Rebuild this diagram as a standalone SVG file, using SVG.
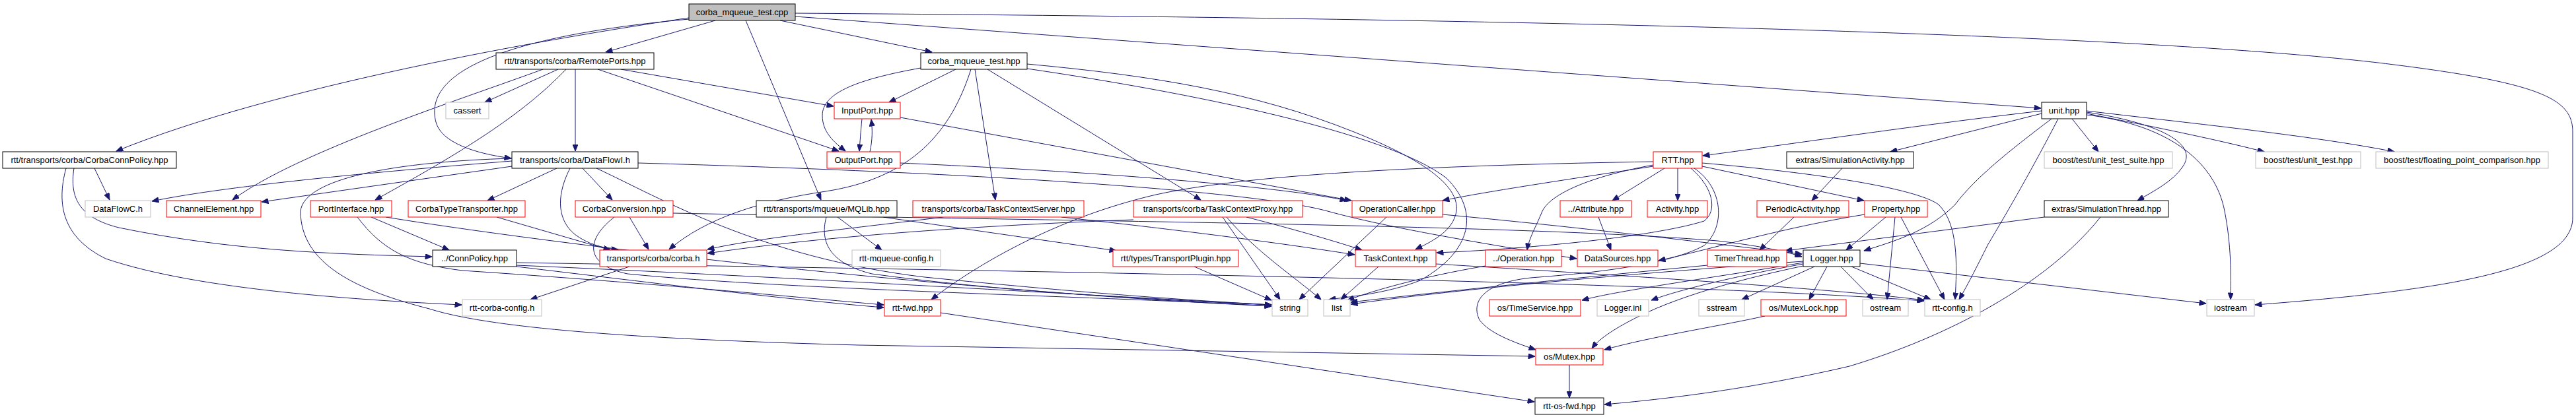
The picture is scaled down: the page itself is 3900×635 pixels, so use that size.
<svg xmlns="http://www.w3.org/2000/svg" width="3900" height="635" viewBox="0 0 3900 635">
<style>
.n rect{fill:#fff;stroke-width:1}
.b rect{stroke:#000}
.g rect{stroke:#bfbfbf}
.r rect{stroke:#ff0000}
.root rect{fill:#bfbfbf;stroke:#000}
text{font-family:"Liberation Sans",Arial,sans-serif;font-size:13px;fill:#000;text-anchor:middle}
#edges path{fill:none;stroke:#191970;stroke-width:1;marker-end:url(#a)}
</style>
<defs>
<marker id="a" viewBox="0 0 10 8" refX="10" refY="4" markerWidth="11" markerHeight="8" markerUnits="userSpaceOnUse" orient="auto"><path d="M0,0 L10,4 L0,8 z" fill="#191970" stroke="#191970"/></marker>
</defs>
<rect width="3900" height="635" fill="#fff"/>
<g id="edges">
<path d="M1043,27 C820,60 420,130 176,229"/>
<path d="M1043,29 C760,55 640,110 660,185 C668,215 715,232 774,240"/>
<path d="M1083,31 L917,79"/>
<path d="M1129,31 L1243,303"/>
<path d="M1181,31 L1411,79"/>
<path d="M1204,25 L3090,164"/>
<path d="M1204,20 C2600,30 3300,60 3600,95 C3850,125 3895,150 3895,200 L3895,330 C3895,410 3700,440 3414,462"/>
<path d="M845,105 L734,155"/>
<path d="M871,105 L871,229"/>
<path d="M822,105 C700,150 450,230 352,303"/>
<path d="M857,105 C790,175 700,230 568,303"/>
<path d="M940,105 L1262,161"/>
<path d="M905,105 L1270,229"/>
<path d="M1447,105 L1346,155"/>
<path d="M1394,103 C1300,120 1245,140 1245,175 C1245,200 1262,215 1280,229"/>
<path d="M1470,105 C1440,200 1380,270 1250,290 C1150,305 1070,330 1013,378"/>
<path d="M1476,105 L1507,303"/>
<path d="M1495,105 L1818,303"/>
<path d="M1555,97 C1750,115 1900,140 2050,200 C2150,240 2210,280 2205,320 C2200,350 2170,365 2143,378"/>
<path d="M1555,104 C1800,140 2100,200 2190,270 C2240,320 2230,380 2150,425 C2100,445 2040,450 2012,454"/>
<path d="M1305,180 C1303,200 1302,215 1301,229"/>
<path d="M1317,230 C1321,212 1321,196 1319,181"/>
<path d="M1363,178 L2046,304"/>
<path d="M1363,247 C1700,262 1950,285 2039,304"/>
<path d="M775,244 C600,258 350,280 230,305"/>
<path d="M775,252 L396,306"/>
<path d="M775,240 C600,245 460,270 455,320 C455,400 540,440 650,468 C750,500 1000,515 1300,523 L2324,540"/>
<path d="M843,255 L738,304"/>
<path d="M863,255 C845,290 840,330 870,355 C890,370 910,375 936,379"/>
<path d="M882,255 L927,303"/>
<path d="M903,255 C1000,300 1150,390 1400,420 C1650,445 1800,455 1925,462"/>
<path d="M966,247 C1500,262 1900,290 2010,320 C2100,345 2250,370 2387,392"/>
<path d="M752,329 L924,379"/>
<path d="M953,329 L982,378"/>
<path d="M930,329 C890,360 880,400 950,415 C1200,440 1700,450 1925,464"/>
<path d="M1019,323 C1600,335 2300,340 2600,365 C2660,372 2700,380 2728,389"/>
<path d="M562,329 L680,379"/>
<path d="M541,329 C580,380 620,400 700,410 C1000,430 1200,450 1338,462"/>
<path d="M584,329 C900,380 1500,445 1925,464"/>
<path d="M143,255 L166,303"/>
<path d="M112,255 C105,300 120,330 180,345 C350,380 500,385 654,389"/>
<path d="M100,255 C85,310 95,360 160,392 C300,440 550,455 699,462"/>
<path d="M782,398 C1500,410 2500,425 2913,456"/>
<path d="M782,402 C1200,420 1600,445 1925,462"/>
<path d="M782,404 C1000,430 1200,455 1338,466"/>
<path d="M953,404 L803,454"/>
<path d="M1268,329 L1335,379"/>
<path d="M1337,329 L1690,380"/>
<path d="M1251,329 C1240,370 1260,400 1320,415 C1500,440 1750,455 1925,462"/>
<path d="M1428,329 C1300,345 1150,360 1071,378"/>
<path d="M1607,329 C1800,350 1950,370 2051,386"/>
<path d="M1716,333 C1400,345 1200,365 1071,384"/>
<path d="M1887,329 C1950,345 2020,365 2062,379"/>
<path d="M1851,329 L1938,454"/>
<path d="M1857,329 C1900,380 1960,420 2000,454"/>
<path d="M1808,404 L1925,455"/>
<path d="M2099,329 L1967,454"/>
<path d="M2184,325 C2400,345 2600,370 2728,385"/>
<path d="M2087,404 L2030,454"/>
<path d="M2174,400 C2500,420 2800,440 2913,455"/>
<path d="M2249,403 C2150,420 2080,440 2040,455"/>
<path d="M2420,329 L2439,379"/>
<path d="M2503,252 C2400,268 2250,290 2184,304"/>
<path d="M2503,245 C2200,250 1900,262 1750,295 C1600,330 1480,400 1410,454"/>
<path d="M2520,255 L2441,304"/>
<path d="M2540,255 L2540,304"/>
<path d="M2503,250 C2420,265 2350,290 2335,320 C2325,345 2315,360 2312,379"/>
<path d="M2560,255 C2595,285 2600,320 2580,335 C2500,360 2300,378 2175,383"/>
<path d="M2565,255 C2610,285 2612,345 2580,372 C2530,400 2420,413 2330,420 C2250,425 2225,455 2240,485 C2255,505 2290,518 2325,530"/>
<path d="M2577,252 L2822,304"/>
<path d="M2577,247 C2750,262 2900,285 2935,310 C2965,340 2963,400 2960,454"/>
<path d="M3091,168 C2900,190 2700,220 2578,236"/>
<path d="M3091,172 L2862,230"/>
<path d="M3137,180 L3177,230"/>
<path d="M3159,172 C3250,190 3350,210 3428,230"/>
<path d="M3159,168 C3300,185 3500,205 3625,230"/>
<path d="M3159,170 C3260,185 3330,215 3305,252 C3290,275 3260,290 3236,304"/>
<path d="M3159,174 C3290,190 3355,250 3368,320 C3378,370 3378,420 3377,454"/>
<path d="M3106,180 C3040,230 2990,270 2960,310 C2920,350 2870,365 2822,380"/>
<path d="M3116,180 C3080,250 3040,320 3010,370 C2995,400 2980,430 2966,454"/>
<path d="M2789,255 L2743,304"/>
<path d="M2716,329 L2664,379"/>
<path d="M2855,329 L2795,379"/>
<path d="M2869,329 L2857,454"/>
<path d="M2878,329 L2944,454"/>
<path d="M2823,325 C2700,345 2600,375 2511,395"/>
<path d="M2585,402 C2400,420 2200,440 2045,458"/>
<path d="M2730,398 C2600,420 2450,440 2395,455"/>
<path d="M2730,400 C2620,420 2540,440 2500,455"/>
<path d="M2730,396 C2400,420 2200,440 2045,461"/>
<path d="M2730,403 C2650,420 2550,445 2480,480 C2440,500 2420,515 2410,528"/>
<path d="M2747,404 L2637,454"/>
<path d="M2766,404 L2739,454"/>
<path d="M2787,404 L2836,454"/>
<path d="M2803,404 L2923,454"/>
<path d="M2816,399 L3340,460"/>
<path d="M2672,479 C2600,495 2500,510 2429,530"/>
<path d="M2376,553 L2376,603"/>
<path d="M3180,329 C3100,430 2950,510 2800,555 C2650,590 2520,605 2429,613"/>
<path d="M3095,329 L2703,380"/>
<path d="M1424,474 L2323,609"/>
</g>
<g id="n_cpp" class="n root"><rect x="1043" y="6" width="161" height="25"/><text x="1123.5" y="23">corba_mqueue_test.cpp</text></g>
<g id="n_remoteports" class="n b"><rect x="751" y="80" width="239" height="25"/><text x="870.5" y="97">rtt/transports/corba/RemotePorts.hpp</text></g>
<g id="n_cpphpp" class="n b"><rect x="1394" y="80" width="161" height="25"/><text x="1474.5" y="97">corba_mqueue_test.hpp</text></g>
<g id="n_cassert" class="n g"><rect x="675" y="155" width="65" height="25"/><text x="707.5" y="172">cassert</text></g>
<g id="n_inputport" class="n r"><rect x="1263" y="155" width="100" height="25"/><text x="1313" y="172">InputPort.hpp</text></g>
<g id="n_unit" class="n b"><rect x="3091" y="155" width="68" height="25"/><text x="3125" y="172">unit.hpp</text></g>
<g id="n_corbaconnpolicy" class="n b"><rect x="4" y="230" width="263" height="25"/><text x="135.5" y="247">rtt/transports/corba/CorbaConnPolicy.hpp</text></g>
<g id="n_dataflowi" class="n b"><rect x="775" y="230" width="191" height="25"/><text x="870.5" y="247">transports/corba/DataFlowI.h</text></g>
<g id="n_outputport" class="n r"><rect x="1252" y="230" width="111" height="25"/><text x="1307.5" y="247">OutputPort.hpp</text></g>
<g id="n_rtt" class="n r"><rect x="2503" y="230" width="74" height="25"/><text x="2540" y="247">RTT.hpp</text></g>
<g id="n_simact" class="n b"><rect x="2705" y="230" width="192" height="25"/><text x="2801" y="247">extras/SimulationActivity.hpp</text></g>
<g id="n_uts" class="n g"><rect x="3095" y="230" width="194" height="25"/><text x="3192" y="247">boost/test/unit_test_suite.hpp</text></g>
<g id="n_ut" class="n g"><rect x="3415" y="230" width="159" height="25"/><text x="3494.5" y="247">boost/test/unit_test.hpp</text></g>
<g id="n_fpc" class="n g"><rect x="3597" y="230" width="261" height="25"/><text x="3727.5" y="247">boost/test/floating_point_comparison.hpp</text></g>
<g id="n_dataflowc" class="n g"><rect x="129" y="304" width="99" height="25"/><text x="178.5" y="321">DataFlowC.h</text></g>
<g id="n_channelelement" class="n r"><rect x="252" y="304" width="143" height="25"/><text x="323.5" y="321">ChannelElement.hpp</text></g>
<g id="n_portinterface" class="n r"><rect x="470" y="304" width="123" height="25"/><text x="531.5" y="321">PortInterface.hpp</text></g>
<g id="n_ctt" class="n r"><rect x="618" y="304" width="177" height="25"/><text x="706.5" y="321">CorbaTypeTransporter.hpp</text></g>
<g id="n_corbaconversion" class="n r"><rect x="871" y="304" width="148" height="25"/><text x="945" y="321">CorbaConversion.hpp</text></g>
<g id="n_mqlib" class="n b"><rect x="1145" y="304" width="213" height="25"/><text x="1251.5" y="321">rtt/transports/mqueue/MQLib.hpp</text></g>
<g id="n_tcserver" class="n r"><rect x="1382" y="304" width="259" height="25"/><text x="1511.5" y="321">transports/corba/TaskContextServer.hpp</text></g>
<g id="n_tcproxy" class="n r"><rect x="1716" y="304" width="256" height="25"/><text x="1844" y="321">transports/corba/TaskContextProxy.hpp</text></g>
<g id="n_operationcaller" class="n r"><rect x="2047" y="304" width="137" height="25"/><text x="2115.5" y="321">OperationCaller.hpp</text></g>
<g id="n_attribute" class="n r"><rect x="2362" y="304" width="108" height="25"/><text x="2416" y="321">../Attribute.hpp</text></g>
<g id="n_activity" class="n r"><rect x="2494" y="304" width="91" height="25"/><text x="2539.5" y="321">Activity.hpp</text></g>
<g id="n_periodicactivity" class="n r"><rect x="2660" y="304" width="139" height="25"/><text x="2729.5" y="321">PeriodicActivity.hpp</text></g>
<g id="n_property" class="n r"><rect x="2823" y="304" width="95" height="25"/><text x="2870.5" y="321">Property.hpp</text></g>
<g id="n_simthread" class="n b"><rect x="3095" y="304" width="188" height="25"/><text x="3189" y="321">extras/SimulationThread.hpp</text></g>
<g id="n_connpolicy" class="n b"><rect x="655" y="379" width="127" height="25"/><text x="718.5" y="396">../ConnPolicy.hpp</text></g>
<g id="n_corbah" class="n r"><rect x="908" y="379" width="162" height="25"/><text x="989" y="396">transports/corba/corba.h</text></g>
<g id="n_mqueueconfig" class="n g"><rect x="1290" y="379" width="134" height="25"/><text x="1357" y="396">rtt-mqueue-config.h</text></g>
<g id="n_transportplugin" class="n r"><rect x="1685" y="379" width="190" height="25"/><text x="1780" y="396">rtt/types/TransportPlugin.hpp</text></g>
<g id="n_taskcontext" class="n r"><rect x="2052" y="379" width="122" height="25"/><text x="2113" y="396">TaskContext.hpp</text></g>
<g id="n_operation" class="n r"><rect x="2249" y="379" width="115" height="25"/><text x="2306.5" y="396">../Operation.hpp</text></g>
<g id="n_datasources" class="n r"><rect x="2388" y="379" width="122" height="25"/><text x="2449" y="396">DataSources.hpp</text></g>
<g id="n_timerthread" class="n r"><rect x="2585" y="379" width="120" height="25"/><text x="2645" y="396">TimerThread.hpp</text></g>
<g id="n_logger" class="n b"><rect x="2730" y="379" width="86" height="25"/><text x="2773" y="396">Logger.hpp</text></g>
<g id="n_corbaconfig" class="n g"><rect x="700" y="454" width="120" height="25"/><text x="760" y="471">rtt-corba-config.h</text></g>
<g id="n_rttfwd" class="n r"><rect x="1339" y="454" width="85" height="25"/><text x="1381.5" y="471">rtt-fwd.hpp</text></g>
<g id="n_string" class="n g"><rect x="1926" y="454" width="54" height="25"/><text x="1953" y="471">string</text></g>
<g id="n_list" class="n g"><rect x="2004" y="454" width="40" height="25"/><text x="2024" y="471">list</text></g>
<g id="n_timeservice" class="n r"><rect x="2255" y="454" width="138" height="25"/><text x="2324" y="471">os/TimeService.hpp</text></g>
<g id="n_loggerinl" class="n g"><rect x="2418" y="454" width="78" height="25"/><text x="2457" y="471">Logger.inl</text></g>
<g id="n_sstream" class="n g"><rect x="2572" y="454" width="69" height="25"/><text x="2606.5" y="471">sstream</text></g>
<g id="n_mutexlock" class="n r"><rect x="2666" y="454" width="129" height="25"/><text x="2730.5" y="471">os/MutexLock.hpp</text></g>
<g id="n_ostream" class="n g"><rect x="2820" y="454" width="69" height="25"/><text x="2854.5" y="471">ostream</text></g>
<g id="n_rttconfig" class="n g"><rect x="2914" y="454" width="84" height="25"/><text x="2956" y="471">rtt-config.h</text></g>
<g id="n_iostream" class="n g"><rect x="3341" y="454" width="72" height="25"/><text x="3377" y="471">iostream</text></g>
<g id="n_mutex" class="n r"><rect x="2325" y="528" width="102" height="25"/><text x="2376" y="545">os/Mutex.hpp</text></g>
<g id="n_osfwd" class="n b"><rect x="2324" y="603" width="104" height="25"/><text x="2376" y="620">rtt-os-fwd.hpp</text></g>
</svg>
